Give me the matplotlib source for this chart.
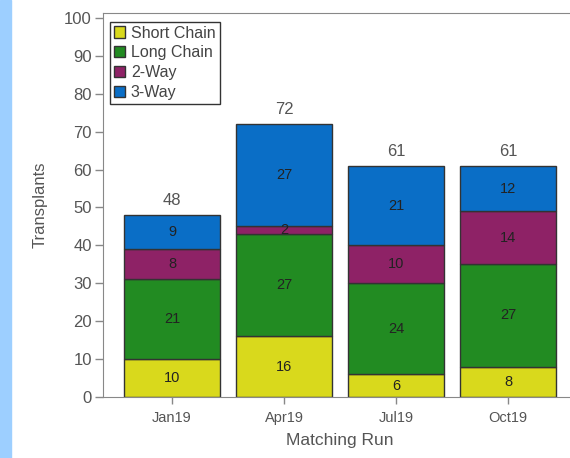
import matplotlib.pyplot as plt
import numpy as np

plt.rcParams['font.family'] = ['Liberation Sans', 'DejaVu Sans']

runs = ['Jan19', 'Apr19', 'Jul19', 'Oct19']
short_chain = [10, 16, 6, 8]
long_chain = [21, 27, 24, 27]
two_way = [8, 2, 10, 14]
three_way = [9, 27, 21, 12]

series = [
    ('Short Chain', short_chain, '#d9d91c'),
    ('Long Chain', long_chain, '#228b22'),
    ('2-Way', two_way, '#8e2266'),
    ('3-Way', three_way, '#0a6ec6'),
]

fig = plt.figure(figsize=(5.7, 4.58), dpi=100)
# light blue strip on the left edge
fig.patches.append(plt.Rectangle((0, 0), 11 / 570, 1, transform=fig.transFigure,
                                 color='#9dcfff', zorder=0))
ax = fig.add_axes([103 / 570, 61 / 458, 474 / 570, 384 / 458])

x = np.arange(len(runs))
bottom = np.zeros(len(runs))
for name, vals, col in series:
    vals = np.array(vals)
    bars = ax.bar(x, vals, 0.86, bottom=bottom, color=col, edgecolor='#333333',
                  linewidth=1.0, label=name)
    ax.bar_label(bars, labels=[str(v) for v in vals], label_type='center',
                 fontsize=10.5, color='#222222')
    bottom += vals

for xi, tot in zip(x, bottom):
    ax.annotate(str(int(tot)), (xi, tot), xytext=(0, 5), textcoords='offset points',
                ha='center', va='bottom', fontsize=12, color='#555555')

ax.set_xlim(-0.616, 3.616)
ax.set_ylim(0, 101.3)
ax.set_yticks(range(0, 101, 10))
ax.set_xticks(x)
ax.set_xticklabels(runs)
for s in ax.spines.values():
    s.set_color('#888888')
ax.tick_params(axis='y', colors='#888888', labelcolor='#555555', labelsize=12,
               length=6, width=1, pad=2)
ax.tick_params(axis='x', colors='#888888', labelcolor='#555555', labelsize=10.5,
               length=5, width=1, pad=5)
ax.set_xlabel('Matching Run', fontsize=12.5, color='#555555', labelpad=6)
ax.set_ylabel('Transplants', fontsize=12, color='#555555', labelpad=12)

leg = ax.legend(loc='upper left', bbox_to_anchor=(0.005, 0.99), fontsize=11.5,
                handlelength=0.7, handleheight=0.7, handletextpad=0.35,
                labelspacing=0.3, borderpad=0.25, borderaxespad=0.3,
                fancybox=False, framealpha=1, edgecolor='#333333')
for t in leg.get_texts():
    t.set_color('#444444')
leg.get_frame().set_linewidth(1.0)

fig.savefig('out.png', dpi=100)
